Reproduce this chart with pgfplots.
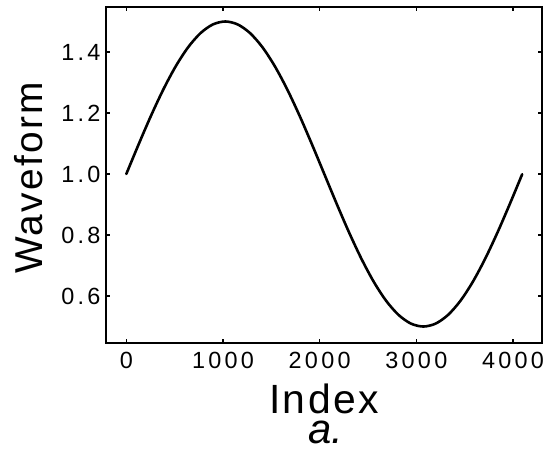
\documentclass[border=0pt]{standalone}
\usepackage{fontspec}
\setmainfont{Liberation Sans}
\newfontfamily\tickfont[LetterSpace=14]{Liberation Sans}
\newfontfamily\labfont[LetterSpace=6]{Liberation Sans}
\usepackage{pgfplots}
\pgfplotsset{compat=1.18}
\begin{document}
\begin{tikzpicture}
\begin{axis}[
  scale only axis,
  width=436bp, height=336bp,
  xmin=-210, xmax=4300,
  ymin=0.446, ymax=1.5475,
  xtick={0,1000,2000,3000,4000},
  ytick={0.6,0.8,1.0,1.2,1.4},
  yticklabel style={/pgf/number format/fixed,/pgf/number format/fixed zerofill,/pgf/number format/precision=1, xshift=-2bp},
  xticklabel style={/pgf/number format/set thousands separator={}, yshift=-6bp},
  /pgf/number format/assume math mode=true,
  tick label style={font=\fontsize{23.5}{23.5}\selectfont\tickfont, black},
  tick align=inside,
  major tick length=4bp,
  tick style={line width=1.2pt, black},
  axis line style={line width=1.3pt, black},
  clip=false,
]
\addplot[black, line width=2.6pt, smooth, line join=round, line cap=round] coordinates {
(0,1.0) (128,1.09755) (256,1.19134) (384,1.27779) (512,1.35355) (640,1.41573)
(768,1.46194) (896,1.49039) (1024,1.5) (1152,1.49039) (1280,1.46194) (1408,1.41573)
(1536,1.35355) (1664,1.27779) (1792,1.19134) (1920,1.09755) (2048,1.0)
(2176,0.90245) (2304,0.80866) (2432,0.72221) (2560,0.64645) (2688,0.58427)
(2816,0.53806) (2944,0.50961) (3072,0.5) (3200,0.50961) (3328,0.53806)
(3456,0.58427) (3584,0.64645) (3712,0.72221) (3840,0.80866) (3968,0.90245)
(4095,0.99923)
};
\node[anchor=base, inner sep=0pt, font=\fontsize{41}{41}\selectfont\labfont] at (rel axis cs:0.5,0) [yshift=-70bp] {Index};
\node[anchor=base, inner sep=0pt, font=\fontsize{42}{42}\selectfont\itshape] at (rel axis cs:0.5,0) [yshift=-100bp, xshift=2bp] {a.};
\node[xshift=-63bp, yshift=-3bp, anchor=base, inner sep=0pt, rotate=90, font=\fontsize{39}{39}\selectfont\labfont] at (rel axis cs:0,0.5) {Waveform};
\end{axis}
\pgfresetboundingbox
\path (current axis.south west) ++(-106bp,-108bp) coordinate (bl);
\path (current axis.north east) ++(4bp,7bp) coordinate (tr);
\path (bl) rectangle (tr);
\end{tikzpicture}
\end{document}
